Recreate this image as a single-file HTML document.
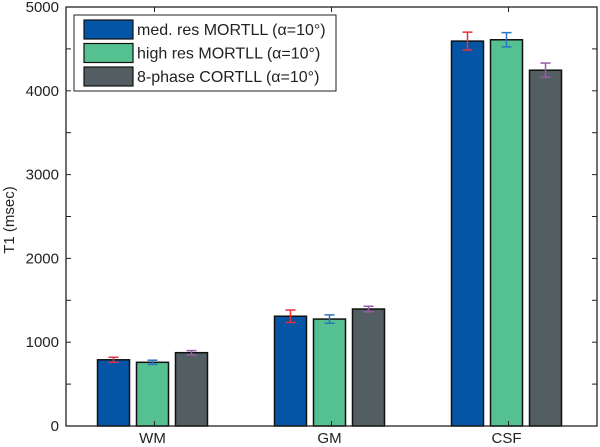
<!DOCTYPE html>
<html><head><meta charset="utf-8"><style>
html,body{margin:0;padding:0;background:#fff;}
svg{display:block;font-family:"Liberation Sans",sans-serif;}
</style></head><body>
<svg id="chart" width="600" height="447" viewBox="0 0 600 447"></svg>
<script>
const categories = ["WM", "GM", "CSF"];
const seriesNames = ["med. res MORTLL (\u03b1=10\u00b0)", "high res MORTLL (\u03b1=10\u00b0)", "8-phase CORTLL (\u03b1=10\u00b0)"];
const medRes = [790, 1310, 4593];
const highRes = [760, 1276, 4609];
const cortll = [875, 1396, 4246];
const medResErr = [30, 74, 107];
const highResErr = [25, 50, 85];
const cortllErr = [25, 33, 85];
const yTicks = [0, 1000, 2000, 3000, 4000, 5000];

const NS = "http://www.w3.org/2000/svg";
const svg = document.getElementById("chart");
const L = 66, R = 597, T = 7, B = 426;
const yMax = 5000;
const y = v => B - v / yMax * (B - T);
const unit = (R - L) / 3;
const x = i => L + unit * (i + 0.5);
const fills = ["#0455a6", "#55c190", "#535e62"];
const errColors = ["#e8303a", "#2a74c0", "#9a5aa8"];
const series = [medRes, highRes, cortll];
const errs = [medResErr, highResErr, cortllErr];
const off = 39, bw = 32;

function mk(tag, attrs, parent) {
  const e = document.createElementNS(NS, tag);
  for (const k in attrs) e.setAttribute(k, attrs[k]);
  (parent || svg).appendChild(e);
  return e;
}

series.forEach((s, si) => {
  s.forEach((v, ci) => {
    const cx = x(ci) + (si - 1) * off - 2;
    const r = mk("rect", {x: cx - bw / 2, y: y(v), width: bw, height: B - y(v), fill: fills[si], stroke: "#111", "stroke-width": 1.5});
    
    
    const g = mk("g", {stroke: errColors[si], "stroke-width": 1.5, fill: "none"});
    
    
    const e = errs[si][ci];
    mk("line", {x1: cx, x2: cx, y1: y(v + e), y2: y(v - e)}, g);
    mk("line", {x1: cx - 5, x2: cx + 5, y1: y(v + e), y2: y(v + e)}, g);
    mk("line", {x1: cx - 5, x2: cx + 5, y1: y(v - e), y2: y(v - e)}, g);
  });
});

const box = mk("rect", {x: L, y: T, width: R - L, height: B - T, fill: "none", stroke: "#222", "stroke-width": 1.3});



for (let v = 0; v <= yMax; v += 500) {
  mk("line", {x1: L, x2: L + 5, y1: y(v), y2: y(v), stroke: "#222", "stroke-width": 1});
  mk("line", {x1: R, x2: R - 5, y1: y(v), y2: y(v), stroke: "#222", "stroke-width": 1});
}
yTicks.forEach(v => {
  const t = mk("text", {x: L - 7, y: y(v) + 5, "text-anchor": "end", "font-size": 15, fill: "#222"});
  t.textContent = v;
  
  
});
categories.forEach((c, i) => {
  mk("line", {x1: x(i), x2: x(i), y1: B, y2: B - 5, stroke: "#222", "stroke-width": 1});
  mk("line", {x1: x(i), x2: x(i), y1: T, y2: T + 5, stroke: "#222", "stroke-width": 1});
  const t = mk("text", {x: x(i) - 2, y: B + 17, "text-anchor": "middle", "font-size": 15, fill: "#222"});
  t.textContent = c;
  
  
});

const yt = mk("text", {x: 14, y: 220, "text-anchor": "middle", "font-size": 15, fill: "#222", transform: "rotate(-90 14 220)"});
yt.textContent = "T1 (msec)";



const lg = mk("g", {});


mk("rect", {x: 74, y: 15, width: 262, height: 76, fill: "#fff", stroke: "#222", "stroke-width": 1}, lg);
seriesNames.forEach((n, i) => {
  const ey = 20 + i * 23.5;
  const ent = mk("g", {}, lg);
  
  
  mk("rect", {x: 84, y: ey, width: 49, height: 19, fill: fills[i], stroke: "#111", "stroke-width": 1.2}, ent);
  const t = mk("text", {x: 137, y: ey + 15, "font-size": 16, fill: "#222"}, ent);
  t.textContent = n;
});
</script>
</body></html>
